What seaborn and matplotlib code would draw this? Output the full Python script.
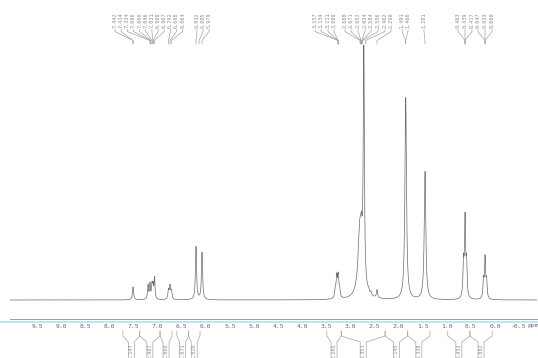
import numpy as np
import matplotlib
matplotlib.use("Agg")
import matplotlib.pyplot as plt
from matplotlib.lines import Line2D
import seaborn as sns

# ---- peak table (ppm, height, half-width in ppm) ----
peak_ppm = [7.510, 7.199, 7.158, 7.116, 7.095, 7.064, 6.774, 6.743, 6.712,
            6.203, 6.079,
            3.313, 3.284, 3.255, 3.226,
            2.790, 2.832, 2.811, 2.770, 2.722, 2.624, 2.573, 2.448,
            1.853, 1.452,
            0.654, 0.622, 0.591,
            0.239, 0.207, 0.176]
peak_height = [13, 14, 15, 13, 12, 21, 9, 13, 8,
               53, 47,
               9, 20, 21, 9,
               72, 10, 10, 9, 236, 3, 3, 8,
               202, 128,
               34, 78, 33,
               18, 40, 17]
peak_width = [0.014, 0.012, 0.012, 0.012, 0.012, 0.012, 0.014, 0.014, 0.014,
              0.014, 0.014,
              0.014, 0.014, 0.014, 0.014,
              0.052, 0.010, 0.010, 0.010, 0.013, 0.012, 0.012, 0.014,
              0.019, 0.019,
              0.013, 0.013, 0.013,
              0.013, 0.013, 0.013]

# ---- axis ticks ----
tick_values = [9.5, 9.0, 8.5, 8.0, 7.5, 7.0, 6.5, 6.0, 5.5, 5.0, 4.5, 4.0,
               3.5, 3.0, 2.5, 2.0, 1.5, 1.0, 0.5, 0.0, -0.5]
tick_labels = ["9.5", "9.0", "8.5", "8.0", "7.5", "7.0", "6.5", "6.0", "5.5",
               "5.0", "4.5", "4.0", "3.5", "3.0", "2.5", "2.0", "1.5", "1.0",
               "0.5", "0.0", "-0.5"]

# ---- peak-pick labels and the shifts they point to ----
pick_left_text = ["7.442", "7.414", "7.334", "7.086", "7.060", "7.046", "7.031",
                  "6.988", "6.967", "6.742", "6.698", "6.664",
                  "6.032", "6.005", "5.979"]
pick_left_target = [7.510, 7.510, 7.158, 7.150, 7.140, 7.116, 7.100, 7.090,
                    7.064, 6.774, 6.743, 6.712, 6.203, 6.140, 6.079]
pick_right_text = ["3.157", "3.134", "3.111", "3.088",
                   "2.688", "2.671", "2.652", "2.634", "2.584", "2.556", "2.462",
                   "2.290", "1.491", "1.466", "1.281",
                   "0.463", "0.439", "0.417", "0.047", "0.023", "0.000"]
pick_right_target = [3.255, 3.255, 3.255, 3.255,
                     2.800, 2.790, 2.780, 2.770, 2.760, 2.750, 2.690,
                     2.448, 1.853, 1.853, 1.452,
                     0.622, 0.622, 0.622, 0.207, 0.207, 0.207]

# ---- integrals: (start ppm, end ppm, value) ----
integ_start = [7.72, 7.37, 6.95, 6.60, 6.36, 3.49, 3.19, 2.28, 1.81, 0.98, 0.52]
integ_end = [7.37, 6.95, 6.70, 6.36, 6.12, 3.19, 2.28, 1.81, 1.35, 0.52, 0.06]
integ_label = ["1.147", "2.987", "1.000", "1.071", "1.020",
               "2.205", "8.351", "7.145", "4.338", "4.432", "3.882"]

# ---- figure ----
W_PX, H_PX = 538, 358
sns.set_style("white")
plt.rcParams["axes.unicode_minus"] = False
MONO = "DejaVu Sans Mono"

fig = plt.figure(figsize=(W_PX / 100, H_PX / 100), dpi=100)
fig.patch.set_facecolor("white")


def fx(px):
    return px / W_PX


def fy(py):
    return 1 - py / H_PX


x_left_px, x_right_px = 10, 537
y_top_px, y_axis_px = 45, 319
ax = fig.add_axes([fx(x_left_px), fy(y_axis_px),
                   fx(x_right_px) - fx(x_left_px), (y_axis_px - y_top_px) / H_PX])
ax.set_facecolor("none")

grid = np.linspace(10.06, -0.87, 14000)
spec = np.zeros_like(grid)
for c, h, w in zip(peak_ppm, peak_height, peak_width):
    spec += h / (1 + ((grid - c) / w) ** 2)

sns.lineplot(x=grid, y=spec, ax=ax, color="#6a6a6a", linewidth=0.5,
             estimator=None, sort=False)

ax.set_xlim(10.062, -0.871)
ax.set_ylim(-19, 255)
ax.set_xlabel("")
ax.set_ylabel("")
for side in ["top", "left", "right"]:
    ax.spines[side].set_visible(False)
ax.spines["bottom"].set_color("#8a8a8a")
ax.spines["bottom"].set_linewidth(0.6)
ax.set_yticks([])
ax.set_xticks(tick_values)
ax.set_xticklabels(tick_labels, fontsize=4.6, family=MONO, color="#666666")
ax.set_xticks(np.arange(-0.8, 10.01, 0.1), minor=True)
ax.tick_params(axis="x", which="major", direction="in", length=3, width=0.5,
               color="#8a8a8a", pad=3.5)
ax.tick_params(axis="x", which="minor", direction="in", length=1.6, width=0.4,
               color="#8a8a8a")
fig.text(fx(533), fy(325.5), "ppm", fontsize=4.6, family=MONO, color="#666666",
         ha="center", va="center")

# pale cyan rule under the scale
fig.add_artist(Line2D([0, 1], [fy(321.5)] * 2, color="#9fe4ea", lw=1.1))

fig.canvas.draw()


def ppm_to_px(v):
    return ax.transData.transform((v, 0))[0]


# ---- peak-pick labels ----
left_cols = [115 + 6.15 * i for i in range(12)] + [197, 203, 209]
right_cols = [315, 321, 328, 334, 345, 351, 358, 365, 371, 378, 385, 391,
              402, 408, 424, 458, 465, 472, 478, 485, 492]
label_color = "#8c8c8c"
for texts, targets, cols in [(pick_left_text, pick_left_target, left_cols),
                             (pick_right_text, pick_right_target, right_cols)]:
    for s, t, cx in zip(texts, targets, cols):
        fig.text(fx(cx), fy(12), s, rotation=90, ha="center", va="top",
                 fontsize=3.7, family=MONO, color=label_color)
        tx = ppm_to_px(t)
        xs = [cx, cx, tx, tx]
        ys = [29.5, 31.5, 40.5, 44]
        fig.add_artist(Line2D([fx(v) for v in xs], [fy(v) for v in ys],
                              color="#9a9a9a", lw=0.45))

# ---- integral brackets ----
for a, b, s in zip(integ_start, integ_end, integ_label):
    xa, xb = ppm_to_px(a), ppm_to_px(b)
    xl = (xa + xb) / 2
    for xe, side in [(xa, -1), (xb, 1)]:
        xs = [xe, xe, xl + side * 3, xl + side * 3]
        ys = [331, 336, 342, 358]
        fig.add_artist(Line2D([fx(v) for v in xs], [fy(v) for v in ys],
                              color="#9a9a9a", lw=0.45))
    fig.text(fx(xl), fy(343), s, rotation=90, ha="center", va="top",
             fontsize=3.7, family=MONO, color=label_color)

fig.savefig("out.png", dpi=100, facecolor="white")
